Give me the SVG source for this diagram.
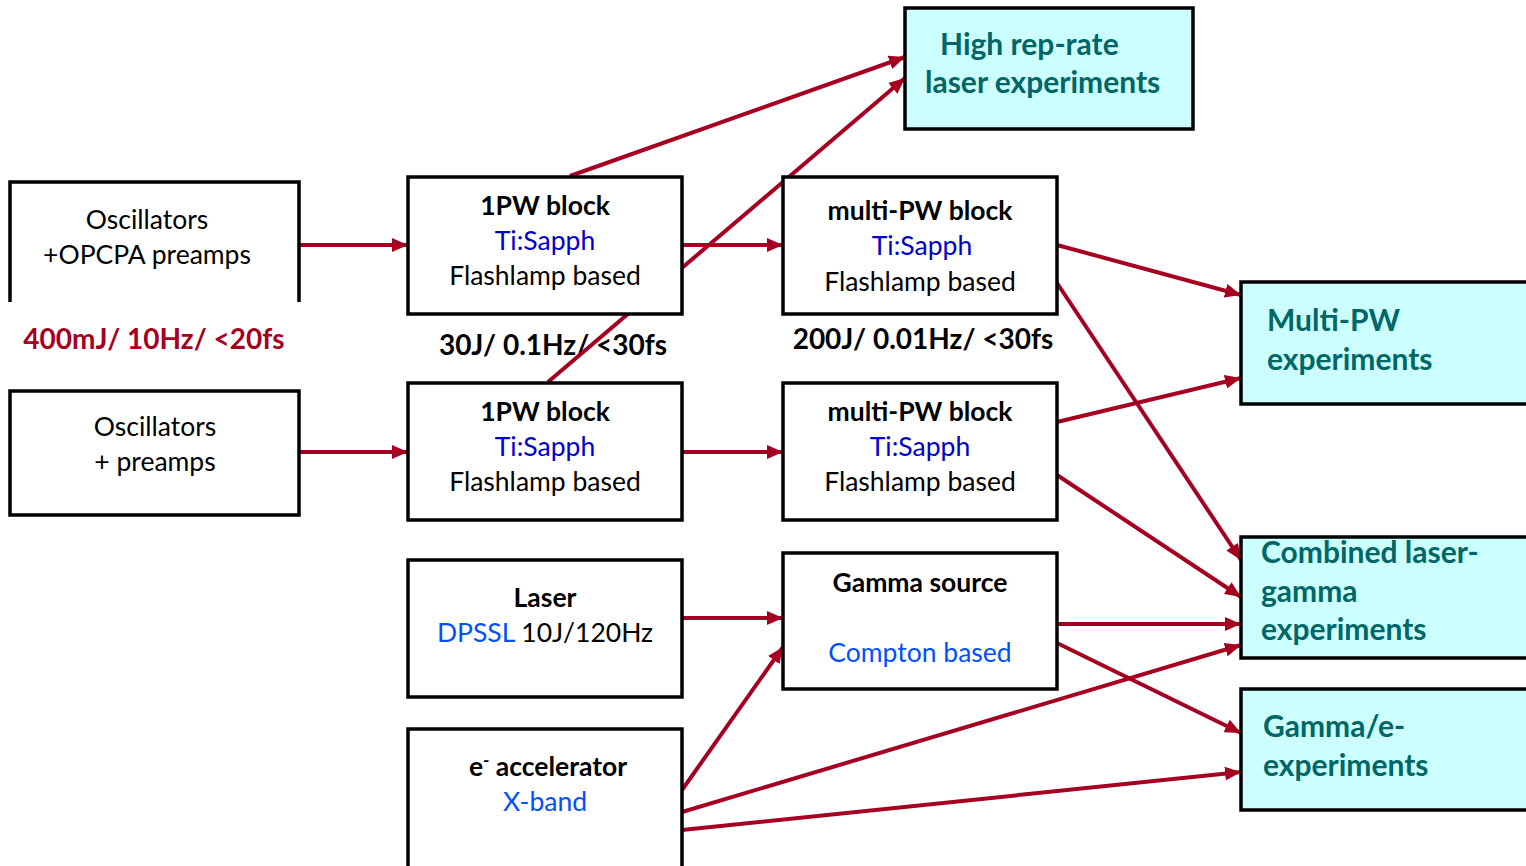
<svg xmlns="http://www.w3.org/2000/svg" width="1526" height="866" viewBox="0 0 1526 866">
<defs>
<marker id="ah" viewBox="0 0 16 14" refX="16" refY="7" markerWidth="16" markerHeight="14" markerUnits="userSpaceOnUse" orient="auto">
<path d="M0,0 L16,7 L0,14 Z" fill="#A50021"/>
</marker>
<style>
.box{fill:#fff;stroke:#000;stroke-width:3.5}
.exp{fill:#CCFFFF;stroke:#000;stroke-width:3.5}
.t{font-family:Lato,"Liberation Sans",sans-serif;font-size:26.5px;fill:#000;text-anchor:middle}
.b{font-weight:bold}
.blue{fill:#0000CC}
.lblue{fill:#0050FF}
.teal{font-family:Lato,"Liberation Sans",sans-serif;font-size:30px;font-weight:bold;fill:#006666}
.lab{font-family:Lato,"Liberation Sans",sans-serif;font-size:28px;font-weight:bold;text-anchor:middle}
.c{stroke:#A50021;stroke-width:4;fill:none;marker-end:url(#ah)}
</style>
</defs>
<rect width="1526" height="866" fill="#fff"/>

<g id="labels">
<text class="lab" x="154" y="349" fill="#A50021">400mJ/ 10Hz/ &lt;20fs</text>
<text class="lab" x="553" y="355" fill="#000">30J/ 0.1Hz/ &lt;30fs</text>
<text class="lab" x="923" y="349" fill="#000">200J/ 0.01Hz/ &lt;30fs</text>
</g>

<g id="connectors">
<line class="c" x1="299" y1="245" x2="408" y2="245"/>
<line class="c" x1="299" y1="452" x2="408" y2="452"/>
<line class="c" x1="682" y1="245" x2="783" y2="245"/>
<line class="c" x1="682" y1="452" x2="783" y2="452"/>
<line class="c" x1="570" y1="176" x2="905" y2="57"/>
<line class="c" x1="548" y1="382" x2="905" y2="78"/>
<line class="c" x1="1057" y1="245" x2="1241" y2="295"/>
<line class="c" x1="1057" y1="283" x2="1241" y2="560"/>
<line class="c" x1="1057" y1="422" x2="1241" y2="378"/>
<line class="c" x1="1057" y1="475" x2="1241" y2="597"/>
<line class="c" x1="682" y1="618" x2="783" y2="618"/>
<line class="c" x1="682" y1="790" x2="783" y2="647"/>
<line class="c" x1="682" y1="812" x2="1241" y2="645"/>
<line class="c" x1="682" y1="830" x2="1241" y2="772"/>
<line class="c" x1="1057" y1="624" x2="1241" y2="624"/>
<line class="c" x1="1057" y1="643" x2="1241" y2="733"/>
</g>

<g id="osc1">
<rect x="10" y="182" width="289" height="120" fill="#fff"/>
<path d="M10,302 V182 H299 V302" fill="none" stroke="#000" stroke-width="3.5"/>
<text class="t" x="147" y="229">Oscillators</text>
<text class="t" x="147" y="264">+OPCPA preamps</text>
</g>

<g id="osc2">
<rect class="box" x="10" y="391" width="289" height="124"/>
<text class="t" x="155" y="436">Oscillators</text>
<text class="t" x="155" y="471">+ preamps</text>
</g>

<g id="pw1a">
<rect class="box" x="408" y="177" width="274" height="137"/>
<text class="t b" x="545" y="215">1PW block</text>
<text class="t blue" x="545" y="250">Ti:Sapph</text>
<text class="t" x="545" y="285">Flashlamp based</text>
</g>

<g id="pw1b">
<rect class="box" x="408" y="383" width="274" height="137"/>
<text class="t b" x="545" y="421">1PW block</text>
<text class="t blue" x="545" y="456">Ti:Sapph</text>
<text class="t" x="545" y="491">Flashlamp based</text>
</g>

<g id="mpw1">
<rect class="box" x="783" y="177" width="274" height="137"/>
<text class="t b" x="920" y="220">multi-PW block</text>
<text class="t blue" x="922" y="255">Ti:Sapph</text>
<text class="t" x="920" y="291">Flashlamp based</text>
</g>

<g id="mpw2">
<rect class="box" x="783" y="383" width="274" height="137"/>
<text class="t b" x="920" y="421">multi-PW block</text>
<text class="t blue" x="920" y="456">Ti:Sapph</text>
<text class="t" x="920" y="491">Flashlamp based</text>
</g>

<g id="laser">
<rect class="box" x="408" y="560" width="274" height="137"/>
<text class="t b" x="545" y="607">Laser</text>
<text class="t" x="545" y="642"><tspan class="lblue">DPSSL</tspan> 10J/120Hz</text>
</g>

<g id="eacc">
<rect class="box" x="408" y="729" width="274" height="140"/>
<text class="t b" x="548" y="776">e<tspan font-size="17" dy="-10">-</tspan><tspan dy="10"> accelerator</tspan></text>
<text class="t lblue" x="545" y="811">X-band</text>
</g>

<g id="gamma">
<rect class="box" x="783" y="553" width="274" height="136"/>
<text class="t b" x="920" y="592">Gamma source</text>
<text class="t lblue" x="920" y="662">Compton based</text>
</g>

<g id="highrep">
<rect class="exp" x="905" y="8" width="288" height="121"/>
<text class="teal" x="940" y="55">High rep-rate</text>
<text class="teal" x="925" y="93">laser experiments</text>
</g>

<g id="multipw">
<rect class="exp" x="1241" y="282" width="290" height="122"/>
<text class="teal" x="1267" y="331">Multi-PW</text>
<text class="teal" x="1267" y="370">experiments</text>
</g>

<g id="combined">
<rect class="exp" x="1241" y="537" width="290" height="121"/>
<text class="teal" x="1261" y="563">Combined laser-</text>
<text class="teal" x="1261" y="602">gamma</text>
<text class="teal" x="1261" y="640">experiments</text>
</g>

<g id="gammae">
<rect class="exp" x="1241" y="689" width="290" height="121"/>
<text class="teal" x="1263" y="737">Gamma/e-</text>
<text class="teal" x="1263" y="776">experiments</text>
</g>
</svg>
